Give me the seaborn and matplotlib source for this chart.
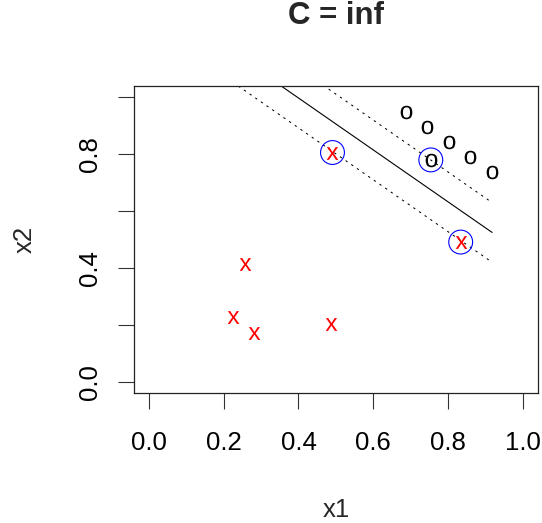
import numpy as np
import pandas as pd
import matplotlib
matplotlib.use("Agg")
import matplotlib.pyplot as plt
import seaborn as sns

# ---- data ----
x_red = [0.491, 0.834, 0.258, 0.224, 0.280, 0.487]
y_red = [0.806, 0.491, 0.415, 0.227, 0.172, 0.203]
x_black = [0.687, 0.745, 0.803, 0.754, 0.860, 0.918]
y_black = [0.947, 0.896, 0.844, 0.780, 0.789, 0.738]
sv_x = [0.491, 0.834, 0.754]
sv_y = [0.806, 0.491, 0.780]
hyper_intercept = 1.363
hyper_slope = -0.913
margin = 0.105
x_ticks = [0.0, 0.2, 0.4, 0.6, 0.8, 1.0]
x_ticklabels = ["0.0", "0.2", "0.4", "0.6", "0.8", "1.0"]
y_ticks = [0.0, 0.2, 0.4, 0.6, 0.8, 1.0]
y_ticklabels = ["0.0", "", "0.4", "", "0.8", ""]

sns.set_style("white")
plt.rcParams["font.family"] = ["Liberation Sans", "DejaVu Sans"]
plt.rcParams["mathtext.default"] = "regular"

fig = plt.figure(figsize=(5.42, 5.23), dpi=100)
ax = fig.add_axes([134 / 542, 1 - 393 / 523, (537.7 - 134) / 542, (393 - 86) / 523])

# lines
all_x = x_red + x_black
xl = np.array([min(all_x), max(all_x)])
ax.plot(xl, hyper_intercept + hyper_slope * xl, color="black", lw=0.8)
for off in (margin, -margin):
    ax.plot(xl, hyper_intercept + off + hyper_slope * xl, color="black", lw=0.75,
            linestyle=(0, (2.2, 4.4)))

df_red = pd.DataFrame({"x1": x_red, "x2": y_red})
df_black = pd.DataFrame({"x1": x_black, "x2": y_black})
sns.scatterplot(data=df_red, x="x1", y="x2", marker=r"$\mathregular{x}$", s=85,
                color="#ff0000", linewidth=0, ax=ax, zorder=3)
sns.scatterplot(data=df_black, x="x1", y="x2", marker=r"$\mathregular{o}$", s=95,
                color="black", linewidth=0, ax=ax, zorder=3)
ax.scatter(sv_x, sv_y, s=295, facecolors="none", edgecolors="#0000ff", linewidths=0.8, zorder=4)

ax.set_xlim(-0.04, 1.04)
ax.set_ylim(-0.04, 1.04)
ax.set_xticks(x_ticks)
ax.set_xticklabels(x_ticklabels)
ax.set_yticks(y_ticks)
ax.set_yticklabels(y_ticklabels)

for s in ax.spines.values():
    s.set_visible(True)
    s.set_color("#222222")
    s.set_linewidth(0.9)

ax.tick_params(axis="both", direction="out", length=11.5, width=0.8, color="#333333",
               labelsize=18.5, labelcolor="black", bottom=True, left=True,
               top=False, right=False)
ax.tick_params(axis="x", pad=16.0)
ax.tick_params(axis="y", pad=11.5, labelrotation=90)
for lbl in ax.get_yticklabels():
    lbl.set_va("center")

ax.set_xlabel("x1", fontsize=18.5)
ax.xaxis.label.set_va("baseline")
ax.xaxis.set_label_coords(0.5, (393 - 516.7) / 307)
ax.set_ylabel("x2", fontsize=18.5)
ax.yaxis.label.set_va("baseline")
ax.yaxis.set_label_coords((31.7 - 134) / 403.7, 0.5)

ax.set_title("C = inf", fontsize=22.5, fontweight="bold", y=(393 - 32.3) / 307, va="baseline")

fig.savefig("out.png", dpi=100)
